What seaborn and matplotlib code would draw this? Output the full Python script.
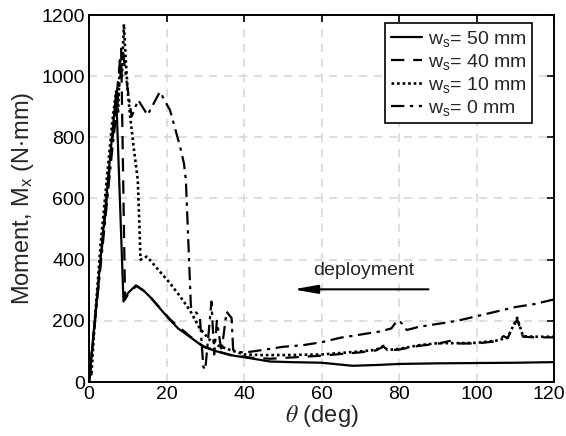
import numpy as np
import pandas as pd
import matplotlib
matplotlib.use("Agg")
import matplotlib.pyplot as plt
import matplotlib.transforms as mtransforms
import seaborn as sns

# ---- data ----
theta50 = [0, 7, 8.9, 10, 12.1, 14, 15.7, 18, 20.9, 23, 26, 29.5, 33, 36.4, 41.5, 46.7, 52, 60, 68, 75, 80, 90, 100, 110, 120]
m50 = [0, 945, 263, 290, 316, 300, 279, 245, 203, 175, 148, 115, 100, 88, 78, 67, 65, 63, 53, 56, 59, 61, 62, 63, 65]

theta40 = [0, 8.3, 9.3, 10.5, 12.3, 15, 20.9, 26, 29.5, 33, 36.4, 41.5, 46.7, 52, 60, 70, 74, 76, 77, 80, 85, 90, 94, 95, 100, 105, 107, 108, 110.5, 112, 115, 120]
m40 = [0, 1090, 270, 295, 314, 290, 205, 150, 117, 101, 89, 80, 76, 80, 86, 97, 103, 116, 104, 106, 118, 125, 137, 126, 126, 133, 150, 143, 205, 148, 146, 146]

theta10 = [0, 0.3, 0.6, 1.5, 3, 4.5, 6, 7, 7.5, 8, 8.5, 9, 9.5, 10, 10.6, 11.6, 12.6, 13.3, 14.9, 16, 18, 20.9, 23.5, 26, 28.6, 31.2, 33.5, 36.4, 40, 45, 50, 60, 70, 74, 76, 77, 80, 85, 90, 95, 100, 105, 108, 110.5, 112, 115, 120]
m10 = [0, 60, 20, 200, 450, 650, 850, 950, 880, 1050, 1000, 1170, 1050, 950, 870, 760, 660, 400, 410, 395, 365, 323, 280, 235, 175, 137, 118, 105, 90, 88, 88, 90, 100, 105, 118, 105, 108, 120, 127, 127, 128, 135, 145, 210, 150, 148, 148]

theta0 = [0, 3, 6, 8.8, 9.5, 11, 12.7, 15.1, 18.3, 20.9, 23.5, 24.5, 25, 26.3, 28.6, 29.5, 30, 30.8, 31.6, 32.3, 33, 33.6, 34.2, 35.5, 36.8, 37.2, 38, 40, 45, 50, 55, 60, 65, 70, 75, 78, 79.5, 80.5, 82, 85, 90, 95, 100, 105, 110, 115, 120]
m0 = [0, 380, 760, 1080, 1000, 868, 922, 873, 949, 889, 770, 715, 660, 246, 214, 50, 40, 150, 263, 90, 200, 150, 100, 230, 209, 105, 100, 96, 105, 115, 120, 130, 145, 155, 165, 175, 200, 195, 170, 180, 190, 200, 215, 230, 245, 255, 270]

labels = [r"$\mathregular{w_s}$= 50 mm", r"$\mathregular{w_s}$= 40 mm",
          r"$\mathregular{w_s}$= 10 mm", r"$\mathregular{w_s}$= 0 mm"]
xticks = [0, 20, 40, 60, 80, 100, 120]
yticks = [0, 200, 400, 600, 800, 1000, 1200]

sns.set_style("white")
plt.rcParams["font.family"] = ["Liberation Sans", "DejaVu Sans"]
plt.rcParams["mathtext.fontset"] = "stix"
plt.rcParams["font.size"] = 14

fig = plt.figure(figsize=(5.66, 4.36), dpi=100)
ax = fig.add_axes([89/566, 54/436, 465/566, 367/436])

series = [(theta50, m50, None, 1.6), (theta40, m40, (6, 4), 1.6),
          (theta10, m10, (1, 1.1), 1.9), (theta0, m0, (6, 2.5, 1.5, 2.5), 1.6)]
for (t, m, d, lw), lab in zip(series, labels):
    df = pd.DataFrame({"theta": t, "M": m})
    sns.lineplot(data=df, x="theta", y="M", ax=ax, color="k", lw=lw,
                 sort=False, estimator=None, label=lab)
    line = ax.get_lines()[-1]
    if d is not None:
        line.set_dashes(d)
    else:
        line.set_linestyle("-")

ax.set_xlim(0, 120)
ax.set_ylim(0, 1200)
ax.set_xticks(xticks)
ax.set_yticks(yticks)
ax.grid(True, color="#d8d8d8", linestyle=(0, (5, 4)), linewidth=1.2)
ax.set_axisbelow(True)
ax.tick_params(direction="in", top=True, right=True, length=5, width=1.2,
               labelsize=14, pad=3, colors="k")
for s in ax.spines.values():
    s.set_linewidth(1.4)
    s.set_color("k")

# keep the last x tick label inside the figure (as in the reference)
fig.canvas.draw()
last = ax.get_xticklabels()[-1]
last.set_transform(last.get_transform() + mtransforms.ScaledTranslation(-5/100, 0, fig.dpi_scale_trans))

ax.set_xlabel(r"$\theta$ (deg)", fontsize=17, labelpad=0)
ax.set_ylabel(r"Moment, $\mathregular{M_x}$ (N$\cdot$mm)", fontsize=17, labelpad=4)

leg = ax.legend(loc="upper right", bbox_to_anchor=(0.953, 0.978), borderaxespad=0,
                fancybox=False, edgecolor="k", framealpha=1, fontsize=14,
                handlelength=1.6, handletextpad=0.3, labelspacing=0.15, borderpad=0.3)
leg.get_frame().set_linewidth(1.2)

ax.annotate("", xy=(52.7, 303), xytext=(87.6, 303),
            arrowprops=dict(arrowstyle="-|>,head_length=0.9,head_width=0.16",
                            color="k", lw=1.5, mutation_scale=16,
                            shrinkA=0, shrinkB=0))
ax.text(70.8, 365, "deployment", ha="center", va="center", fontsize=14)

fig.savefig("out.png", dpi=100)
